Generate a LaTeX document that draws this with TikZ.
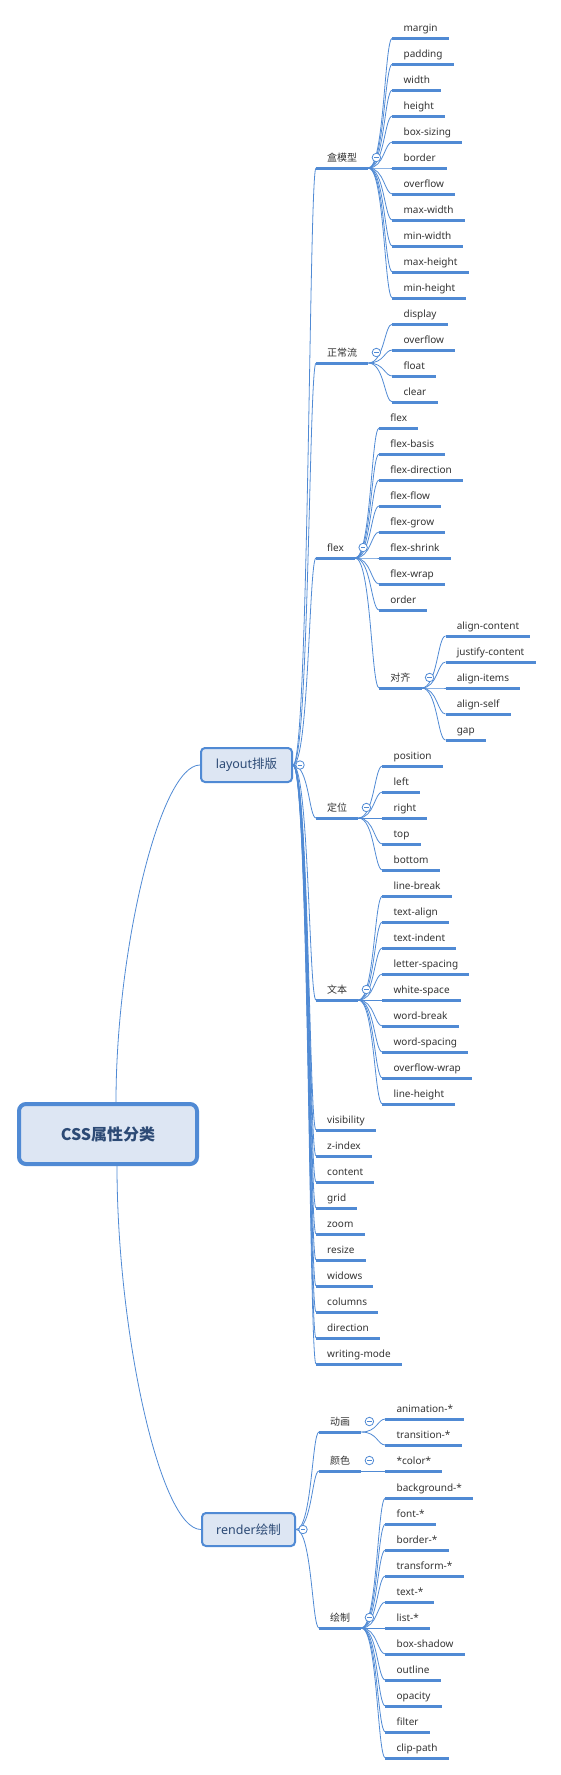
\documentclass[tikz,border=0pt]{standalone}
\usepackage{fontspec}
\setmainfont{Noto Sans}
\newfontfamily\cjk{Noto Sans CJK SC}
\usetikzlibrary{calc}
\definecolor{mapblue}{RGB}{80,138,212}
\definecolor{boxfill}{RGB}{221,230,243}
\definecolor{inkgray}{RGB}{51,51,51}
\definecolor{topicink}{RGB}{44,74,117}
\newcommand{\zh}[1]{{\cjk #1}}

\begin{document}
\begin{tikzpicture}[x=1pt,y=-1pt,
      uline/.style={draw=mapblue,line width=3pt},
      leaf/.style={anchor=south west,inner xsep=11pt,inner ysep=0pt,
        text height=8.5pt,text depth=6.3pt,text=inkgray,
        font=\fontsize{10}{12}\selectfont,
        append after command={(\tikzlastnode.south west) edge[uline] (\tikzlastnode.south east)}},
      topic/.style={draw=mapblue,fill=boxfill,line width=2pt,rounded corners=4pt,
        text=topicink,font=\fontsize{12.5}{15}\selectfont},
      root/.style={draw=mapblue,fill=boxfill,line width=4pt,rounded corners=7pt,
        minimum width=178pt,minimum height=60pt,text=topicink,
        font=\fontsize{16}{19}\selectfont\bfseries},
      conn/.style={draw=mapblue,line width=0.8pt},
      fold/.style={circle,draw=mapblue,fill=white,line width=0.8pt,
        minimum size=8.5pt,inner sep=0pt,
        path picture={\draw[mapblue,line width=0.8pt]
          ([xshift=-2.2pt]path picture bounding box.center) --
          ([xshift=2.2pt]path picture bounding box.center);}}
      ]
      \useasboundingbox (0,0) rectangle (561,1775);

      % main topics
      \node[root] (css) at (108,1134) {\zh{CSS属性分类}};
      \node[topic, minimum width=91pt, minimum height=34pt] (layout) at (246.5,765) {layout\zh{排版}};
      \node[topic, minimum width=93pt, minimum height=33pt] (render) at (248.5,1529.5) {render\zh{绘制}};

      \draw[conn] ([xshift=8pt]css.north) .. controls +(0,-152) and +(-40,0) .. (layout.west);
      \draw[conn] ([xshift=9pt]css.south) .. controls +(0,165) and +(-41,0) .. (render.west);

      % layout
      \node[leaf] (hm) at (316,168) {\zh{盒模型}};
      \node[leaf] (zc) at (316,363) {\zh{正常流}};
      \node[leaf] (fx) at (316,558) {flex};
      \node[leaf] (dw) at (316,818) {\zh{定位}};
      \node[leaf] (wb) at (316,1000) {\zh{文本}};
      \foreach \name [count=\i from 0] in {visibility,z-index,content,grid,zoom,resize,widows,columns,direction,writing-mode}
        \node[leaf] (lv\i) at (316,1130+26*\i) {\name};

      \foreach \c in {hm,zc,fx,dw,wb,lv0,lv1,lv2,lv3,lv4,lv5,lv6,lv7,lv8,lv9}
        \draw[conn] (layout.east) .. controls +(16,0) and +(-7,0) .. (\c.south west);

      \foreach \name [count=\i from 0] in {margin,padding,width,height,box-sizing,border,overflow,max-width,min-width,max-height,min-height}
        \node[leaf] (hm\i) at ($(hm.south east)+(24,-130+26*\i)$) {\name};
      \foreach \i in {0,...,10}
        \draw[conn] (hm.south east) .. controls +(16,0) and +(-8,0) .. (hm\i.south west);

      \foreach \name [count=\i from 0] in {display,overflow,float,clear}
        \node[leaf] (zc\i) at ($(zc.south east)+(24,-39+26*\i)$) {\name};
      \foreach \i in {0,...,3}
        \draw[conn] (zc.south east) .. controls +(16,0) and +(-8,0) .. (zc\i.south west);

      \foreach \name [count=\i from 0] in {flex,flex-basis,flex-direction,flex-flow,flex-grow,flex-shrink,flex-wrap,order}
        \node[leaf] (fx\i) at ($(fx.south east)+(24,-130+26*\i)$) {\name};
      \node[leaf] (dq) at ($(fx.south east)+(24,130)$) {\zh{对齐}};
      \foreach \c in {fx0,fx1,fx2,fx3,fx4,fx5,fx6,fx7,dq}
        \draw[conn] (fx.south east) .. controls +(16,0) and +(-8,0) .. (\c.south west);

      \foreach \name [count=\i from 0] in {align-content,justify-content,align-items,align-self,gap}
        \node[leaf] (dq\i) at ($(dq.south east)+(24,-52+26*\i)$) {\name};
      \foreach \i in {0,...,4}
        \draw[conn] (dq.south east) .. controls +(16,0) and +(-8,0) .. (dq\i.south west);

      \foreach \name [count=\i from 0] in {position,left,right,top,bottom}
        \node[leaf] (dw\i) at ($(dw.south east)+(24,-52+26*\i)$) {\name};
      \foreach \i in {0,...,4}
        \draw[conn] (dw.south east) .. controls +(16,0) and +(-8,0) .. (dw\i.south west);

      \foreach \name [count=\i from 0] in {line-break,text-align,text-indent,letter-spacing,white-space,word-break,word-spacing,overflow-wrap,line-height}
        \node[leaf] (wb\i) at ($(wb.south east)+(24,-104+26*\i)$) {\name};
      \foreach \i in {0,...,8}
        \draw[conn] (wb.south east) .. controls +(16,0) and +(-8,0) .. (wb\i.south west);

      % render
      \node[leaf] (dh) at (319,1432) {\zh{动画}};
      \node[leaf] (ys) at (319,1471) {\zh{颜色}};
      \node[leaf] (hz) at (319,1628) {\zh{绘制}};
      \foreach \c in {dh,ys,hz}
        \draw[conn] (render.east) .. controls +(16,0) and +(-7,0) .. (\c.south west);

      \node[leaf] (dh0) at ($(dh.south east)+(24,-13)$) {animation-*};
      \node[leaf] (dh1) at ($(dh.south east)+(24,13)$) {transition-*};
      \node[leaf] (ys0) at ($(ys.south east)+(24,0)$) {*color*};
      \foreach \c in {dh0,dh1}
        \draw[conn] (dh.south east) .. controls +(16,0) and +(-8,0) .. (\c.south west);
      \draw[conn] (ys.south east) -- (ys0.south west);

      \foreach \name [count=\i from 0] in {background-*,font-*,border-*,transform-*,text-*,list-*,box-shadow,outline,opacity,filter,clip-path}
        \node[leaf] (hz\i) at ($(hz.south east)+(24,-130+26*\i)$) {\name};
      \foreach \i in {0,...,10}
        \draw[conn] (hz.south east) .. controls +(16,0) and +(-8,0) .. (hz\i.south west);

      % fold buttons
      \node[fold] (layoutf) at ([xshift=7pt]layout.east) {};
      \node[fold] (renderf) at ([xshift=7pt]render.east) {};
      \foreach \c in {hm,zc,fx,dq,dw,wb,dh,ys,hz}
        \node[fold] (\c f) at ([xshift=8pt,yshift=10.5pt]\c.south east) {};
    \end{tikzpicture}
\end{document}
